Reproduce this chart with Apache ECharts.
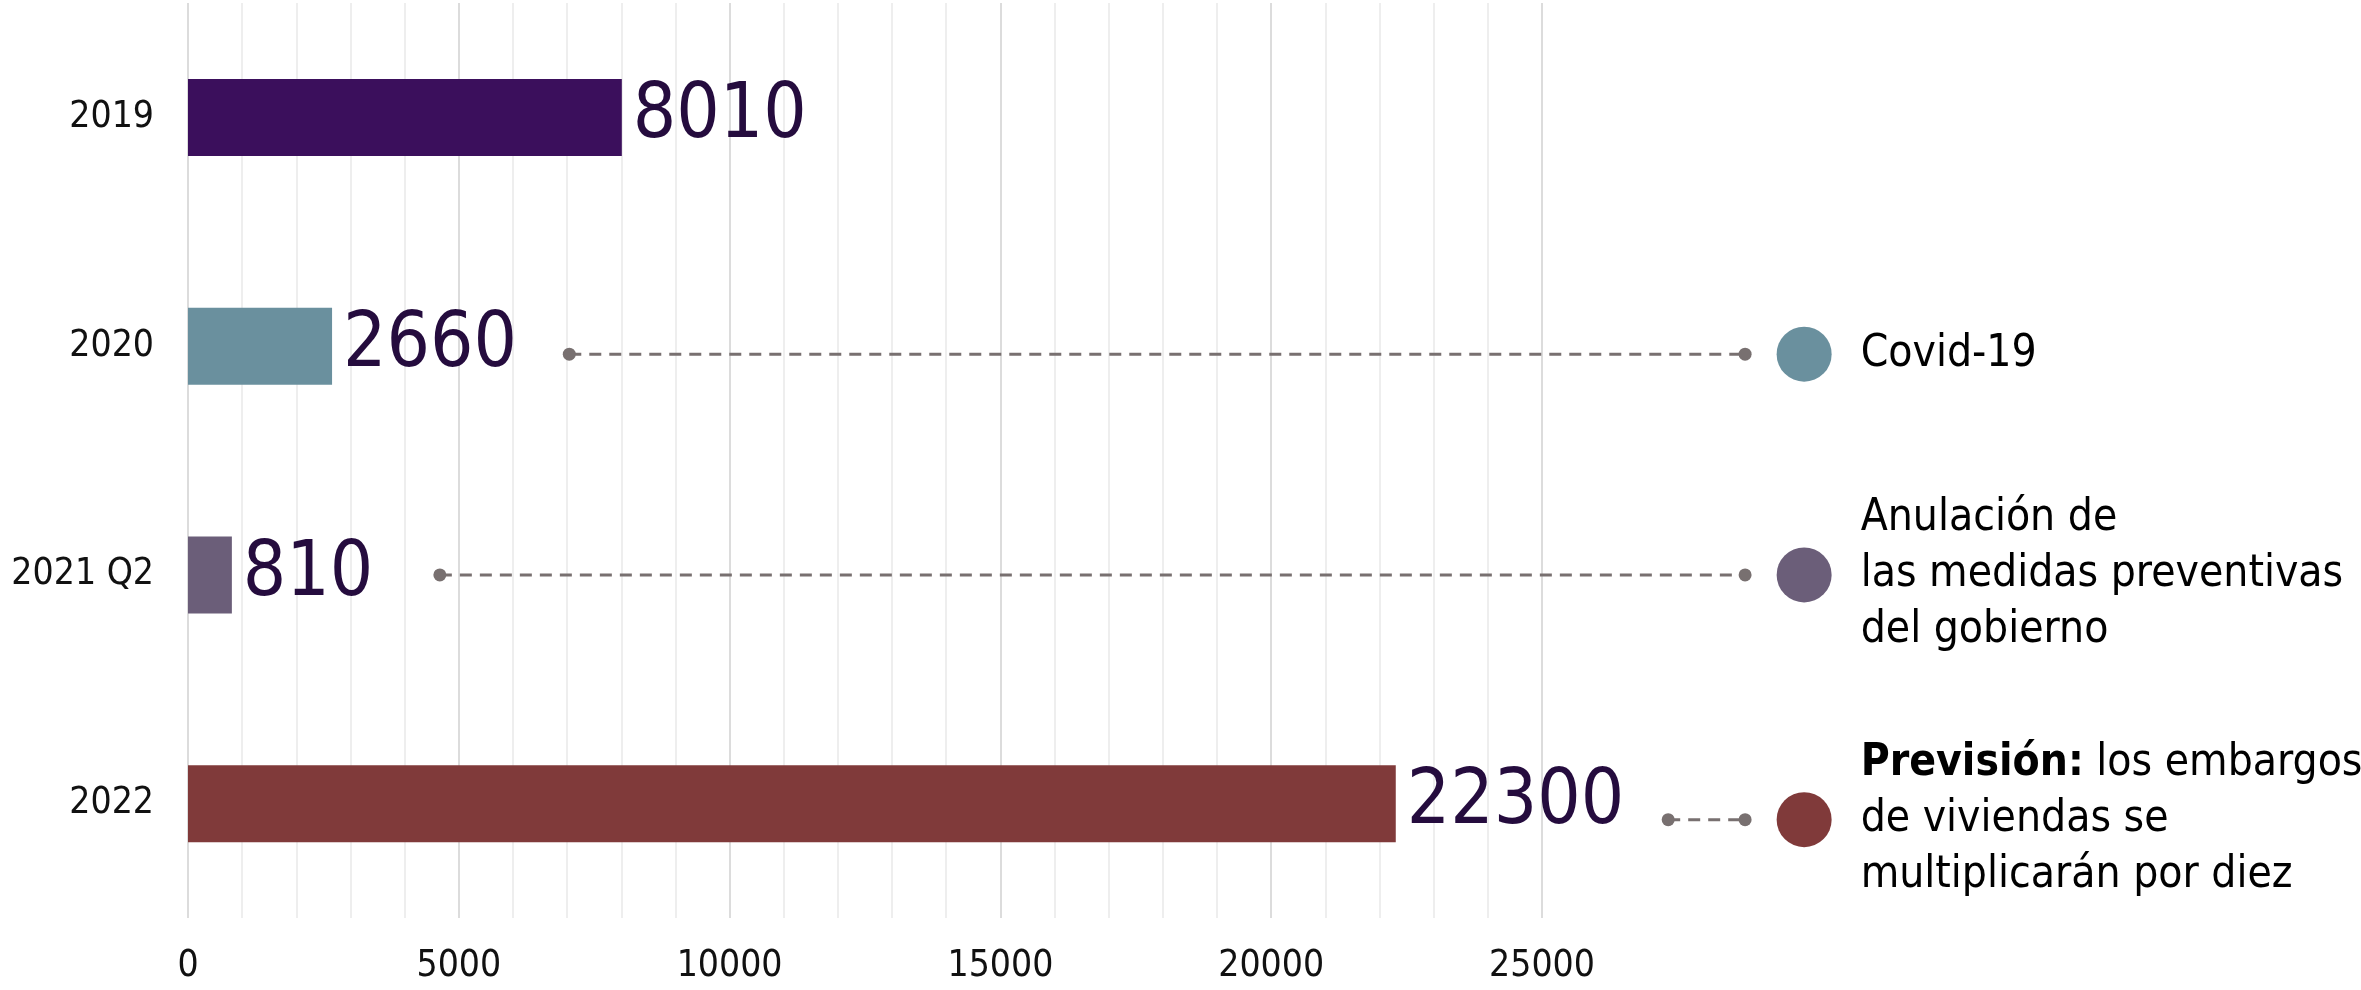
<!DOCTYPE html>
<html>
<head>
<meta charset="utf-8">
<script src="https://cdn.jsdelivr.net/npm/echarts@6/dist/echarts.min.js"></script>
<style>
  html, body { margin: 0; padding: 0; background: #fff; }
  #main { width: 2361px; height: 990px; }
</style>
</head>
<body>
<div id="main"></div>
<script>
// bar data
var categories = ['2019', '2020', '2021 Q2', '2022'];
var values = [8010, 2660, 810, 22300];
var barColors = ['#3b0f5c', '#6a909e', '#6b5e79', '#803a3a'];

// annotations (events on the right)
var eventRows = [1.035, 2.0, 3.07];          // position on the category scale
var eventStart = [7040, 4650, 27330];        // where the dashed leader starts
var eventEnd = 28750;                        // where the dashed leader ends
var eventMarker = 29840;                     // big coloured dot
var eventColors = ['#6a909e', '#6b5e79', '#803a3a'];
var eventTexts = [
  'Covid-19',
  'Anulación de\nlas medidas preventivas\ndel gobierno',
  '{b|Previsión:} los embargos\nde viviendas se\nmultiplicarán por diez'
];

var FONT = "'DejaVu Sans Condensed', 'DejaVu Sans', sans-serif";

// same px-per-unit as the main axis, but running to the right edge
var PX_PER_UNIT = (1542 - 188) / 25000;
var annotMax = 40000;

var chart = echarts.init(document.getElementById('main'));

var series = [
  {
    type: 'bar',
    xAxisIndex: 0,
    yAxisIndex: 0,
    barWidth: 77,
    data: values.map(function (v, i) {
      return { value: v, itemStyle: { color: barColors[i] } };
    }),
    label: {
      show: true,
      position: 'right',
      distance: 11,
      fontFamily: FONT,
      fontSize: 76,
      color: '#250c3e'
    }
  }
];

// dashed leaders
eventRows.forEach(function (row, i) {
  series.push({
    type: 'line',
    xAxisIndex: 1,
    yAxisIndex: 1,
    symbol: 'circle',
    symbolSize: 13,
    itemStyle: { color: '#787070', opacity: 1 },
    lineStyle: { color: '#787070', width: 3, type: [12, 8] },
    data: [[eventStart[i], row], [eventEnd, row]]
  });
});

// big dots with texts
series.push({
  type: 'scatter',
  xAxisIndex: 1,
  yAxisIndex: 1,
  symbolSize: 55,
  itemStyle: { opacity: 1 },
  data: eventRows.map(function (row, i) {
    return {
      value: [eventMarker, row],
      itemStyle: { color: eventColors[i], opacity: 1 },
      label: { formatter: eventTexts[i] }
    };
  }),
  label: {
    show: true,
    position: 'right',
    distance: 29,
    align: 'left',
    fontFamily: FONT,
    fontSize: 44,
    lineHeight: 56,
    color: '#000',
    rich: {
      b: { fontFamily: FONT, fontSize: 44, fontWeight: 'bold', lineHeight: 56, color: '#000' }
    }
  }
});

var option = {
  animation: false,
  backgroundColor: '#fff',
  grid: [
    { left: 188, right: 2361 - 1542, top: 3, bottom: 72 },
    { left: 188, right: 2361 - 188 - annotMax * PX_PER_UNIT, top: 3, bottom: 72 }
  ],
  xAxis: [
    {
      type: 'value',
      gridIndex: 0,
      min: 0,
      max: 25000,
      interval: 5000,
      axisLine: { show: false },
      axisTick: { show: false },
      axisLabel: {
        margin: 30,
        fontFamily: FONT,
        fontSize: 37,
        color: '#111',
        formatter: function (v) { return String(v); }
      },
      splitLine: { show: true, lineStyle: { color: '#dcdcdc', width: 2 } },
      minorTick: { show: false, splitNumber: 5 },
      minorSplitLine: { show: true, lineStyle: { color: '#eeeeee', width: 2 } }
    },
    {
      type: 'value',
      gridIndex: 1,
      min: 0,
      max: annotMax,
      show: false,
      splitLine: { show: false }
    }
  ],
  yAxis: [
    {
      type: 'category',
      gridIndex: 0,
      data: categories,
      inverse: true,
      axisLine: { show: false },
      axisTick: { show: false },
      axisLabel: {
        margin: 34,
        fontFamily: FONT,
        fontSize: 37,
        color: '#111'
      }
    },
    {
      type: 'value',
      gridIndex: 1,
      min: -0.5,
      max: 3.5,
      inverse: true,
      show: false,
      splitLine: { show: false }
    }
  ],
  series: series
};

chart.setOption(option);
</script>
</body>
</html>
